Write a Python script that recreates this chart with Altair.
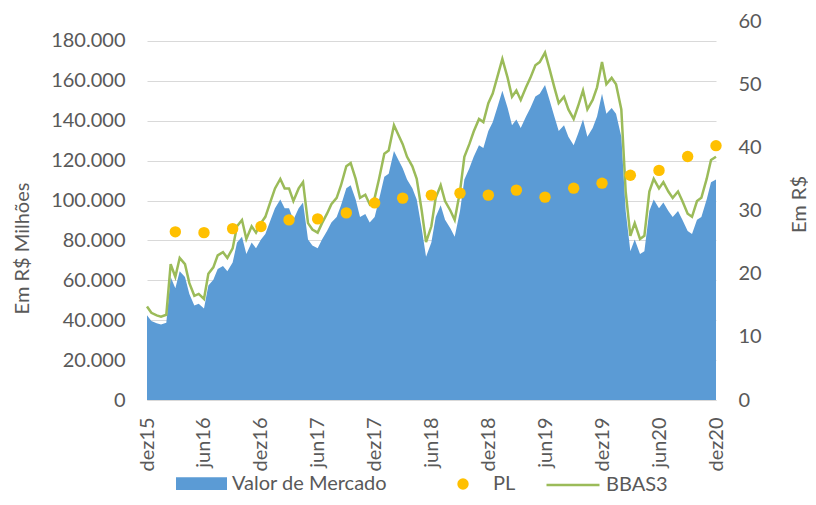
import altair as alt
import pandas as pd

# semi-monthly dates, dez15 .. dez20
dates = pd.date_range("2015-12-01", periods=121, freq="SMS").strftime("%Y-%m-%d").tolist()

# BBAS3 share price (R$), right axis
bbas3 = [14.8, 13.8, 13.4, 13.2, 13.5, 21.5, 19.5, 22.5, 21.5, 18.5,
         16.5, 16.8, 16.0, 20.0, 21.0, 22.9, 23.4, 22.5, 24.0, 27.5,
         28.5, 25.5, 27.5, 26.5, 28.0, 29.0, 31.5, 33.5, 35.0, 33.5,
         33.5, 31.5, 33.5, 34.5, 28.0, 27.0, 26.5, 28.0, 29.5, 31.0,
         32.0, 34.0, 37.0, 37.5, 35.0, 32.0, 32.5, 31.0, 32.0, 35.0,
         39.0, 39.5, 43.5, 42.0, 40.5, 38.5, 37.0, 35.0, 30.0, 25.0,
         27.5, 32.0, 34.0, 31.5, 30.0, 28.5, 33.0, 38.5, 40.5, 42.5,
         44.5, 44.0, 47.0, 48.5, 51.5, 54.0, 51.0, 48.0, 49.0, 47.5,
         49.5, 51.0, 53.0, 53.5, 55.0, 52.5, 49.5, 47.0, 48.0, 46.0,
         44.5, 46.5, 49.0, 46.0, 47.5, 49.5, 53.5, 50.0, 51.0, 50.0,
         46.0, 33.0, 26.0, 28.0, 25.5, 26.0, 33.0, 35.0, 33.5, 34.5,
         33.0, 32.0, 33.0, 31.5, 29.5, 29.0, 31.5, 32.0, 35.0, 38.0,
         38.5]

# Valor de Mercado (R$ milhões), left axis
valor_mercado = [42500, 39600, 38500, 37900, 38700, 61700, 56000, 64600, 61700, 53100,
                 47400, 48200, 45900, 57400, 60300, 65700, 67200, 64600, 68900, 78900,
                 81800, 73200, 78900, 76100, 80400, 83200, 90400, 96100, 100500, 96100,
                 96100, 90400, 96100, 99000, 80400, 77500, 76100, 80400, 84700, 89000,
                 91800, 97600, 106200, 107600, 100500, 91800, 93300, 89000, 91800, 100500,
                 111900, 113400, 124800, 120500, 116200, 110500, 106200, 100500, 86100, 71800,
                 78900, 91800, 97600, 90400, 86100, 81800, 94700, 110500, 116200, 122000,
                 127700, 126300, 134900, 139200, 147800, 155000, 146400, 137800, 140600, 136300,
                 142100, 146400, 152100, 153500, 157900, 150700, 142100, 134900, 137800, 132000,
                 127700, 133500, 140600, 132000, 136300, 142100, 153500, 143500, 146400, 143500,
                 132000, 94700, 74600, 80400, 73200, 74600, 94700, 100500, 96100, 99000,
                 94700, 91800, 94700, 90400, 84700, 83200, 90400, 91800, 100500, 109100,
                 110500]

# PL (R$ milhões), quarterly
pl_dates = ["2016-03-01", "2016-06-01", "2016-09-01", "2016-12-01",
            "2017-03-01", "2017-06-01", "2017-09-01", "2017-12-01",
            "2018-03-01", "2018-06-01", "2018-09-01", "2018-12-01",
            "2019-03-01", "2019-06-01", "2019-09-01", "2019-12-01",
            "2020-03-01", "2020-06-01", "2020-09-01", "2020-12-01"]
pl = [84300, 83900, 85900, 87000, 90300, 90800, 93800, 98800,
      101200, 102700, 103700, 102700, 105200, 101700, 106200, 108700,
      112700, 115100, 122100, 127500]

tick_dates = ["2015-12-01", "2016-06-01", "2016-12-01", "2017-06-01", "2017-12-01",
              "2018-06-01", "2018-12-01", "2019-06-01", "2019-12-01", "2020-06-01",
              "2020-12-01"]

df = pd.DataFrame({"date": dates, "vm": valor_mercado, "px": bbas3})
df["s_vm"] = "Valor de Mercado"
df["s_px"] = "BBAS3"
df_pl = pd.DataFrame({"date": pl_dates, "pl": pl})
df_pl["s_pl"] = "PL"

FONT = "Lato"
TXT = "#595959"
BLUE = "#5B9BD5"
GREEN = "#9BBB59"
GOLD = "#FFC000"


def dt(s):
    y, m, d = map(int, s.split("-"))
    return alt.DateTime(year=y, month=m, date=d, utc=True)


x_enc = alt.X(
    "date:T",
    scale=alt.Scale(type="utc", domain=[dt(tick_dates[0]), dt(tick_dates[-1])]),
    axis=alt.Axis(
        values=[dt(t) for t in tick_dates],
        labelExpr="(utcmonth(datum.value)==11 ? 'dez' : 'jun') + utcFormat(datum.value, '%y')",
        labelAngle=270,
        labelPadding=17,
        title=None,
        grid=False,
        ticks=False,
        domainColor="#D9D9D9",
        domainWidth=1,
    ),
)

left_scale = alt.Scale(domain=[0, 190000], nice=False, zero=True)

area = alt.Chart(df).mark_area(opacity=1).encode(
    x=x_enc,
    y=alt.Y(
        "vm:Q",
        scale=left_scale,
        axis=alt.Axis(
            values=list(range(0, 180001, 20000)),
            labelExpr="replace(format(datum.value, ','), ',', '.')",
            title="Em R$ Milhões",
            titleAngle=270,
            titleX=-125,
            titleY=227,
            titleAlign="center",
            titleBaseline="middle",
            labelPadding=22,
            grid=True,
            gridColor="#D9D9D9",
            gridWidth=1,
            domain=False,
            ticks=False,
        ),
    ),
    fill=alt.Fill(
        "s_vm:N",
        scale=alt.Scale(domain=["Valor de Mercado"], range=[BLUE]),
        legend=alt.Legend(
            title=None,
            orient="none",
            legendX=29,
            legendY=437,
            symbolType="M-1,-0.25H1V0.25H-1Z",
            symbolSize=2601,
            symbolStrokeWidth=0,
            labelOffset=5,
            padding=0,
        ),
    ),
)

line = alt.Chart(df).mark_line(strokeWidth=2.5).encode(
    x=x_enc,
    y=alt.Y(
        "px:Q",
        scale=alt.Scale(domain=[0, 60], nice=False),
        axis=alt.Axis(
            orient="right",
            values=[0, 10, 20, 30, 40, 50, 60],
            title="Em R$",
            titleAngle=270,
            titleX=83,
            titleY=183,
            titleAlign="center",
            titleBaseline="middle",
            labelPadding=22,
            grid=False,
            domain=False,
            ticks=False,
        ),
    ),
    stroke=alt.Stroke(
        "s_px:N",
        scale=alt.Scale(domain=["BBAS3"], range=[GREEN]),
        legend=alt.Legend(
            title=None,
            orient="none",
            legendX=398,
            legendY=436,
            symbolType="M-1,0H1",
            symbolSize=2809,
            symbolStrokeWidth=2.5,
            labelOffset=5,
            padding=0,
        ),
    ),
)

points = alt.Chart(df_pl).mark_point(filled=True, size=130, opacity=1).encode(
    x=x_enc,
    y=alt.Y("pl:Q", scale=left_scale, axis=None),
    color=alt.Color(
        "s_pl:N",
        scale=alt.Scale(domain=["PL"], range=[GOLD]),
        legend=alt.Legend(
            title=None,
            orient="none",
            legendX=306,
            legendY=453,
            symbolType="circle",
            symbolSize=130,
            symbolOpacity=1,
            labelOffset=20,
            padding=0,
        ),
    ),
)

chart = (
    alt.layer(area, line, points)
    .resolve_scale(y="independent")
    .properties(
        width=569,
        height=379,
        autosize=alt.AutoSizeParams(type="none"),
        padding={"left": 139, "top": 13, "right": 92, "bottom": 96},
    )
    .configure_view(stroke=None)
    .configure_axis(
        labelFont=FONT,
        labelFontSize=20,
        labelColor=TXT,
        titleFont=FONT,
        titleFontSize=20,
        titleColor=TXT,
        titleFontWeight="normal",
    )
    .configure_legend(
        labelFont=FONT,
        labelFontSize=20,
        labelColor=TXT,
    )
)

chart.save("out.html", embed_options={"renderer": "svg", "actions": False})
